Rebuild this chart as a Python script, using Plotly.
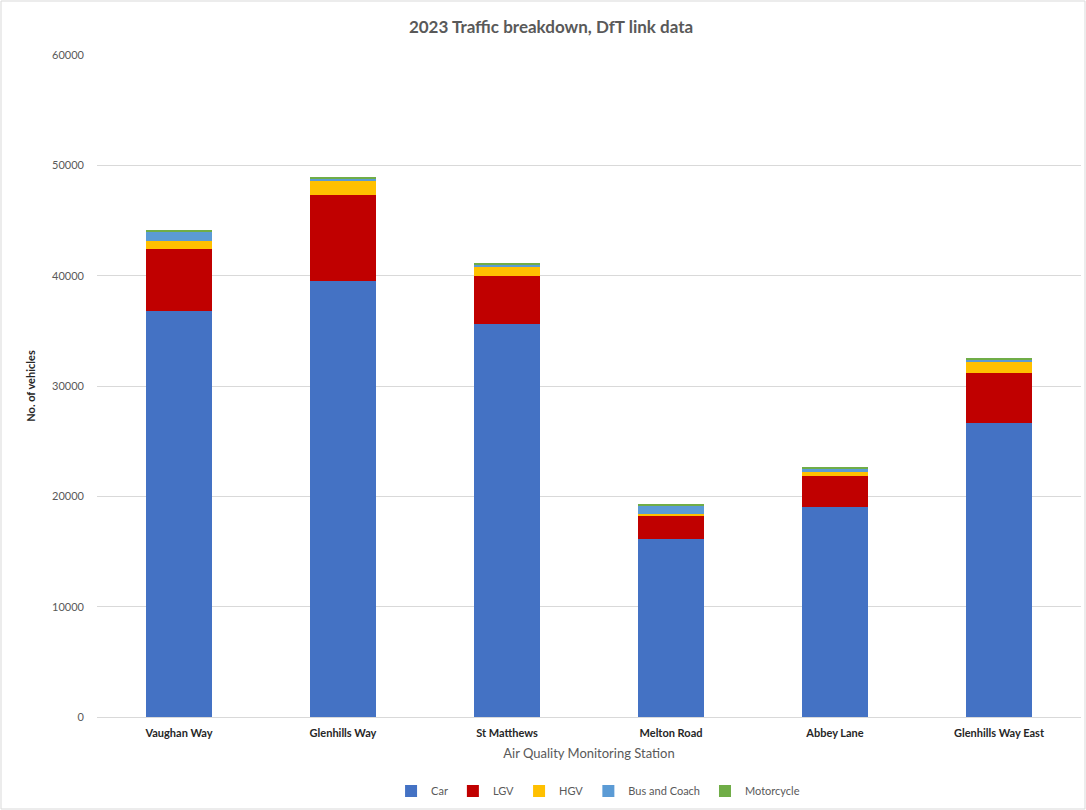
import plotly.graph_objects as go

stations = ["Vaughan Way", "Glenhills Way", "St Matthews", "Melton Road", "Abbey Lane", "Glenhills Way East"]
car = [36800, 39550, 35620, 16130, 19030, 26620]
lgv = [5600, 7800, 4320, 2150, 2810, 4590]
hgv = [700, 1260, 850, 150, 360, 990]
bus = [900, 200, 180, 760, 280, 220]
moto = [170, 140, 90, 90, 210, 120]

series = [
    ("Car", car, "#4472C4"),
    ("LGV", lgv, "#C00000"),
    ("HGV", hgv, "#FFC000"),
    ("Bus and Coach", bus, "#5B9BD5"),
    ("Motorcycle", moto, "#70AD47"),
]

fig = go.Figure()
for name, vals, col in series:
    fig.add_trace(go.Bar(name=name, x=stations, y=vals, marker=dict(color=col, line=dict(width=0))))

W, H = 1086, 810
ml, mr, mt, mb = 97, 5, 55, 93
pw = W - ml - mr
ph = H - mt - mb

fig.update_layout(
    width=W, height=H,
    barmode="stack", bargap=0.6,
    paper_bgcolor="white", plot_bgcolor="white",
    margin=dict(l=ml, r=mr, t=mt, b=mb),
    font=dict(family="Lato, Open Sans, sans-serif", color="#595959", size=11),
    title=dict(text="<b>2023 Traffic breakdown, DfT link data</b>", x=551/W, xanchor="center",
               y=1 - 27/H, yanchor="middle", font=dict(size=17, color="#595959")),
    yaxis=dict(range=[0, 60000], dtick=10000, showgrid=True, gridcolor="#D9D9D9", gridwidth=1,
               zeroline=False, showline=False, ticks="", tickformat="d", ticklabelstandoff=12,
               tickfont=dict(size=11, color="#595959"),
               title=dict(text="<b>No. of vehicles</b>", font=dict(size=11, color="#262626"), standoff=14)),
    xaxis=dict(showline=True, linecolor="#D9D9D9", linewidth=1, ticks="", ticklabelstandoff=6,
               tickfont=dict(size=11, color="#262626"),
               tickprefix="<b>", ticksuffix="</b>",
               title=dict(text="Air Quality Monitoring Station", font=dict(size=13, color="#595959"), standoff=10)),
    legend=dict(orientation="h", x=553/W, xanchor="center", y=-(791 - (H - mb))/ph, yanchor="middle",
                font=dict(size=11, color="#595959"), traceorder="normal", itemwidth=30),
    shapes=[dict(type="rect", xref="paper", yref="paper",
                 x0=-(ml - 1)/pw, x1=1 + (mr - 1)/pw, y0=-(mb - 1)/ph, y1=1 + (mt - 1)/ph,
                 line=dict(color="#D9D9D9", width=1), fillcolor="rgba(0,0,0,0)", layer="below")],
)

fig.write_html("out.html")
